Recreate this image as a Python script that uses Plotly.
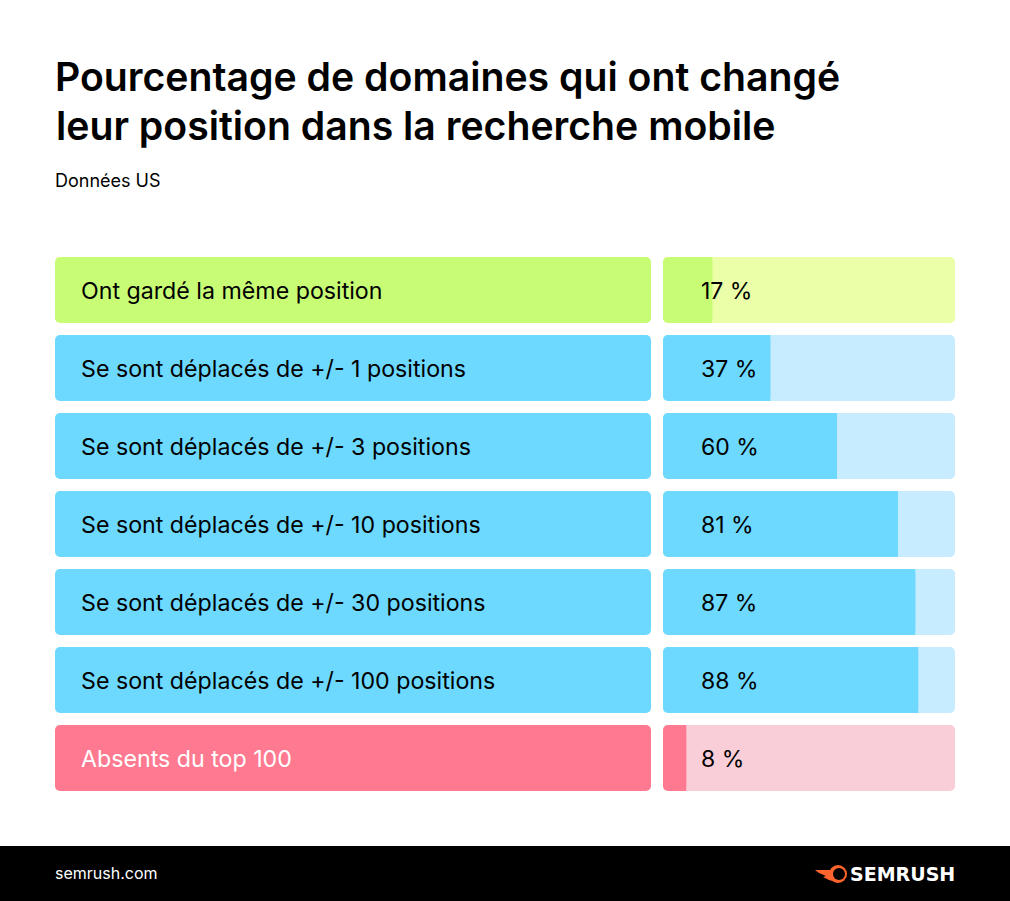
"""Share of domains that changed position in mobile search (Semrush)."""

import plotly.graph_objects as go

W, H = 1010, 901

TITLE_LINES = [
    "Pourcentage de domaines qui ont changé",
    "leur position dans la recherche mobile",
]
LABELS = [
    "Ont gardé la même position",
    "Se sont déplacés de +/- 1 positions",
    "Se sont déplacés de +/- 3 positions",
    "Se sont déplacés de +/- 10 positions",
    "Se sont déplacés de +/- 30 positions",
    "Se sont déplacés de +/- 100 positions",
    "Absents du top 100",
]
VALUES = [17, 37, 60, 81, 87, 88, 8]
VALUE_TEXT = ["17 %", "37 %", "60 %", "81 %", "87 %", "88 %", "8 %"]

STRONG = ["#C8FC74", "#6DD9FF", "#6DD9FF", "#6DD9FF", "#6DD9FF", "#6DD9FF", "#FF7A90"]
PALE = ["#EBFFA8", "#C8ECFF", "#C8ECFF", "#C8ECFF", "#C8ECFF", "#C8ECFF", "#FACED8"]
LABEL_COLORS = ["#000000"] * 6 + ["#FFFFFF"]

AXIS_MAX = 100.7
FONT = "Inter"
TITLE_FONT = {"family": FONT, "size": 39.2, "weight": 600, "color": "#000000"}


def px_x(x):
    return x / W


def px_y(y):
    return 1 - y / H


def _bar(x, base, colors, xaxis, radius=5):
    return go.Bar(
        y=LABELS,
        x=x,
        base=base,
        orientation="h",
        marker={"color": colors, "line": {"width": 0}, "cornerradius": radius},
        xaxis=xaxis,
        yaxis="y",
        showlegend=False,
        hoverinfo="skip",
    )


def _text(text, x, y, font, xanchor="left"):
    return dict(
        text=text, xref="paper", yref="paper", x=px_x(x), y=px_y(y),
        xanchor=xanchor, yanchor="middle", showarrow=False, font=font,
    )


zeros = [0] * len(VALUES)

fig = go.Figure()

# a bar with a base gets rounded at both ends
fig.add_trace(_bar([1] * len(LABELS), zeros, STRONG, "x"))

fig.add_trace(_bar([AXIS_MAX] * len(VALUES), zeros, PALE, "x2"))
fig.add_trace(_bar(VALUES, zeros, STRONG, "x2"))
# square off the inner end of the value bar
fig.add_trace(_bar([v / 2 for v in VALUES], [v / 2 for v in VALUES], STRONG, "x2", radius=0))

annotations = []
for i, label in enumerate(LABELS):
    y_mid = 258 + 33 + 78 * i
    annotations.append(_text(label, 78.5, y_mid, {"family": FONT, "size": 23.2, "color": LABEL_COLORS[i]}))
    annotations.append(_text(VALUE_TEXT[i], 699, y_mid, {"family": FONT, "size": 23, "color": "#000000"}))

annotations += [
    _text(TITLE_LINES[1], 54, 125, TITLE_FONT),
    _text("Données US", 53, 180.5, {"family": FONT, "size": 18, "color": "#000000"}),
    _text("semrush.com", 53, 873, {"family": FONT, "size": 16, "color": "#FFFFFF"}),
    _text("<b>SEMRUSH</b>", 957, 874, {"family": "DejaVu Sans", "size": 19, "color": "#FFFFFF"}, xanchor="right"),
]

shapes = [
    # footer band
    dict(type="rect", xref="paper", yref="paper", x0=0, x1=1, y0=0, y1=px_y(846),
         fillcolor="#000000", line_width=0, layer="below"),
    # logo: flame tail and ball
    dict(
        type="path", xref="paper", yref="paper",
        path=(
            f"M {px_x(815)} {px_y(870)} L {px_x(832)} {px_y(870)} "
            f"L {px_x(836)} {px_y(868)} L {px_x(836)} {px_y(882)} "
            f"L {px_x(829)} {px_y(880)} L {px_x(823)} {px_y(877)} "
            f"L {px_x(826)} {px_y(876)} L {px_x(819)} {px_y(873)} Z"
        ),
        fillcolor="#FF642D", line_width=0,
    ),
    dict(type="circle", xref="paper", yref="paper",
         x0=px_x(829), x1=px_x(847), y0=px_y(883), y1=px_y(865),
         fillcolor="#FF642D", line_width=0),
    dict(type="circle", xref="paper", yref="paper",
         x0=px_x(833), x1=px_x(845), y0=px_y(880), y1=px_y(868),
         fillcolor="#000000", line_width=0),
]

fig.update_layout(
    width=W,
    height=H,
    margin={"l": 0, "r": 0, "t": 0, "b": 0},
    paper_bgcolor="#FFFFFF",
    plot_bgcolor="rgba(0,0,0,0)",
    barmode="overlay",
    bargap=12 / 78,
    title={
        "text": TITLE_LINES[0],
        "x": px_x(55),
        "xanchor": "left",
        "y": px_y(77),
        "yanchor": "middle",
        "font": TITLE_FONT,
    },
    xaxis={"domain": [px_x(55), px_x(651)], "range": [0, 1], "visible": False, "fixedrange": True},
    xaxis2={"domain": [px_x(663), px_x(955)], "range": [0, AXIS_MAX], "visible": False, "anchor": "y", "fixedrange": True},
    yaxis={"domain": [px_y(797), px_y(251)], "autorange": "reversed", "visible": False, "fixedrange": True},
    annotations=annotations,
    shapes=shapes,
)

fig.write_html(
    "out.html",
    config={"displayModeBar": False},
    post_script="document.body.style.margin = '0';",
)
